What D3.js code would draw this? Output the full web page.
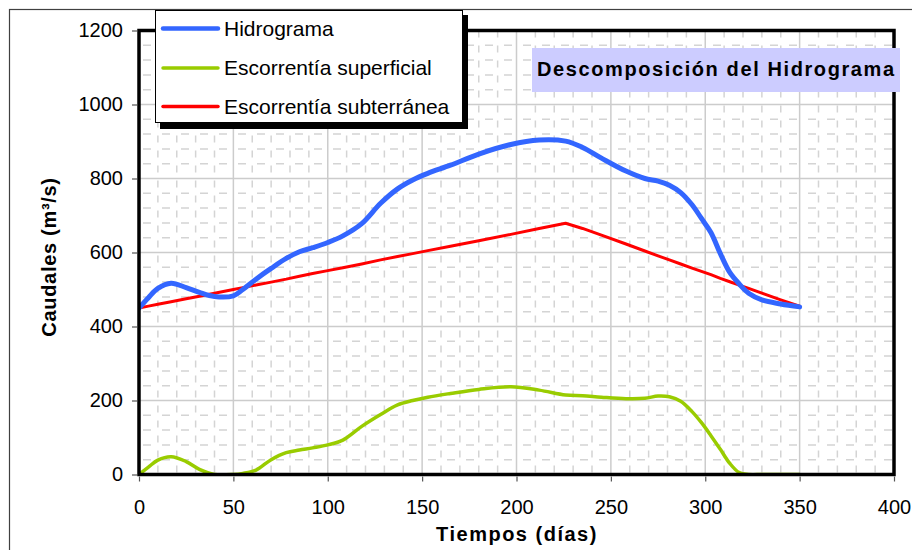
<!DOCTYPE html>
<html>
<head>
<meta charset="utf-8">
<script src="https://cdn.jsdelivr.net/npm/d3@7"></script>
<style>
  body { margin: 0; background: #fff; }
  text { font-family: Arial, "Liberation Sans", sans-serif; }
</style>
</head>
<body>
<script>
// Tiempo (días) and caudales (m³/s)
const dias = [0, 5, 10, 17, 25, 32, 40, 50, 55, 62, 70, 78, 85, 92, 100, 108, 118, 128, 137, 145,
  153, 165, 180, 197, 212, 226, 235, 245, 258, 268, 275, 281, 287, 293, 298, 303, 308, 313, 318,
  323, 330, 340, 350];
const hidrograma = [450, 478, 503, 517, 505, 492, 481, 483, 500, 528, 557, 584, 602, 613, 627, 645,
  678, 733, 772, 796, 814, 836, 866, 892, 904, 901, 884, 855, 820, 800, 793, 782, 762, 729, 692,
  654, 597, 546, 515, 490, 472, 461, 453];
const superficial = [0, 20, 39, 48, 35, 14, 0, 0, 3, 12, 40, 59, 66, 72, 80, 93, 130, 162, 188, 200,
  209, 219, 230, 237, 228, 215, 213, 209, 205, 206, 212, 210, 198, 170, 140, 105, 68, 30, 5, 0,
  0, 0, 0];
const subterranea = [450, 455, 460, 467, 475, 482, 490, 500, 505, 512, 520, 528, 536, 543, 551, 559,
  569, 580, 589, 597, 605, 617, 632, 649, 665, 679, 665, 647, 623, 604, 591, 580, 569, 558, 549,
  540, 530, 521, 512, 503, 490, 472, 455];

const xTicks = [0, 50, 100, 150, 200, 250, 300, 350, 400];
const yTicks = [0, 200, 400, 600, 800, 1000, 1200];
const xMinor = d3.range(10, 400, 10).filter(d => d % 50 !== 0);
const yMinor = d3.range(40, 1200, 40).filter(d => d % 200 !== 0);

const series = [
  { name: "Hidrograma", values: hidrograma, color: "#3366FF", width: 5, smooth: true, legendWidth: 4.5 },
  { name: "Escorrentía superficial", values: superficial, color: "#99CC00", width: 3.5, smooth: true, legendWidth: 3.5 },
  { name: "Escorrentía subterránea", values: subterranea, color: "#FF0000", width: 3, smooth: false, legendWidth: 3.5 }
];

const W = 912, H = 550;
const plot = { left: 139, right: 894, top: 30.5, bottom: 474.5 };

const svg = d3.select("body").append("svg")
  .attr("width", W)
  .attr("height", H);

// outer chart frame (runs off the picture at right and bottom)
svg.append("rect")
  .attr("x", 9.5).attr("y", 9.5)
  .attr("width", 940).attr("height", 580)
  .attr("fill", "#fff")
  .attr("stroke", "#404040")
  .attr("stroke-width", 1.2);

const x = d3.scaleLinear().domain([0, 400]).range([plot.left, plot.right]);
const y = d3.scaleLinear().domain([0, 1200]).range([plot.bottom, plot.top]);

// minor dashed gridlines
svg.append("g")
  .selectAll("line")
  .data(yMinor)
  .join("line")
    .attr("x1", plot.left).attr("x2", plot.right)
    .attr("y1", d => y(d)).attr("y2", d => y(d))
    .attr("stroke", "#d4d4d4")
    .attr("stroke-width", 1.5)
    .attr("stroke-dasharray", "8,11")
    .attr("stroke-dashoffset", -4);

svg.append("g")
  .selectAll("line")
  .data(xMinor)
  .join("line")
    .attr("x1", d => x(d)).attr("x2", d => x(d))
    .attr("y1", plot.top).attr("y2", plot.bottom)
    .attr("stroke", "#d4d4d4")
    .attr("stroke-width", 1.5)
    .attr("stroke-dasharray", "7,8");

// major gridlines
svg.append("g")
  .selectAll("line")
  .data(yTicks.slice(1, -1))
  .join("line")
    .attr("x1", plot.left).attr("x2", plot.right)
    .attr("y1", d => y(d)).attr("y2", d => y(d))
    .attr("stroke", "#cccccc")
    .attr("stroke-width", 1.5);

svg.append("g")
  .selectAll("line")
  .data(xTicks.slice(1, -1))
  .join("line")
    .attr("x1", d => x(d)).attr("x2", d => x(d))
    .attr("y1", plot.top).attr("y2", plot.bottom)
    .attr("stroke", "#cccccc")
    .attr("stroke-width", 1.5);

// lines, clipped to the plot area
svg.append("clipPath").attr("id", "clip")
  .append("rect")
    .attr("x", plot.left).attr("y", plot.top)
    .attr("width", plot.right - plot.left)
    .attr("height", plot.bottom - plot.top);

const lines = svg.append("g").attr("clip-path", "url(#clip)");
// draw red first, then green, then blue on top
[series[2], series[1], series[0]].forEach(s => {
  const line = d3.line()
    .x((d, i) => x(dias[i]))
    .y(d => y(d))
    .curve(s.smooth ? d3.curveCatmullRom.alpha(0.5) : d3.curveLinear);
  lines.append("path")
    .datum(s.values)
    .attr("d", line)
    .attr("fill", "none")
    .attr("stroke", s.color)
    .attr("stroke-width", s.width)
    .attr("stroke-linejoin", "round")
    .attr("stroke-linecap", "round");
});

// plot frame
svg.append("rect")
  .attr("x", plot.left).attr("y", plot.top)
  .attr("width", plot.right - plot.left)
  .attr("height", plot.bottom - plot.top)
  .attr("fill", "none")
  .attr("stroke", "#000")
  .attr("stroke-width", 3.5);

// axes
const yAxis = svg.append("g")
  .attr("transform", `translate(${plot.left - 2},0)`)
  .call(d3.axisLeft(y).tickValues(yTicks).tickFormat(d3.format("d")).tickSize(5).tickPadding(9));
const xAxis = svg.append("g")
  .attr("transform", `translate(0,${plot.bottom + 2})`)
  .call(d3.axisBottom(x).tickValues(xTicks).tickFormat(d3.format("d")).tickSize(5).tickPadding(18));

[yAxis, xAxis].forEach(g => {
  g.select(".domain").remove();
  g.selectAll(".tick line").attr("stroke", "#555").attr("stroke-width", 1.2);
  g.selectAll(".tick text")
    .attr("fill", "#000")
    .style("font-size", "20px")
    .style("font-family", "Arial, 'Liberation Sans', sans-serif");
});

// axis titles
svg.append("text")
  .attr("transform", `translate(56,257) rotate(-90)`)
  .attr("text-anchor", "middle")
  .style("font-size", "20px")
  .style("font-weight", "bold")
  .style("letter-spacing", "0.7px")
  .text("Caudales (m³/s)");

svg.append("text")
  .attr("x", 517).attr("y", 541)
  .attr("text-anchor", "middle")
  .style("font-size", "20px")
  .style("font-weight", "bold")
  .style("letter-spacing", "1.5px")
  .text("Tiempos (días)");

// title box
svg.append("rect")
  .attr("x", 532).attr("y", 48)
  .attr("width", 368).attr("height", 44)
  .attr("fill", "#CCCCFF");
svg.append("text")
  .attr("x", 537).attr("y", 75.5)
  .style("font-size", "20px")
  .style("font-weight", "bold")
  .style("letter-spacing", "1.6px")
  .text("Descomposición del Hidrograma");

// legend with drop shadow
const legend = svg.append("g");
legend.append("rect")
  .attr("x", 160).attr("y", 15)
  .attr("width", 308).attr("height", 114)
  .attr("fill", "#000");
legend.append("rect")
  .attr("x", 155.5).attr("y", 10.5)
  .attr("width", 307).attr("height", 112)
  .attr("fill", "#fff")
  .attr("stroke", "#000")
  .attr("stroke-width", 1);

const rowY = [28.5, 68, 106.5];
series.forEach((s, i) => {
  legend.append("line")
    .attr("x1", 163).attr("x2", 218)
    .attr("y1", rowY[i]).attr("y2", rowY[i])
    .attr("stroke", s.color)
    .attr("stroke-width", s.legendWidth)
    .attr("stroke-linecap", "round");
  legend.append("text")
    .attr("x", 224).attr("y", rowY[i] + 7)
    .style("font-size", "21px")
    .text(s.name);
});
</script>
</body>
</html>
